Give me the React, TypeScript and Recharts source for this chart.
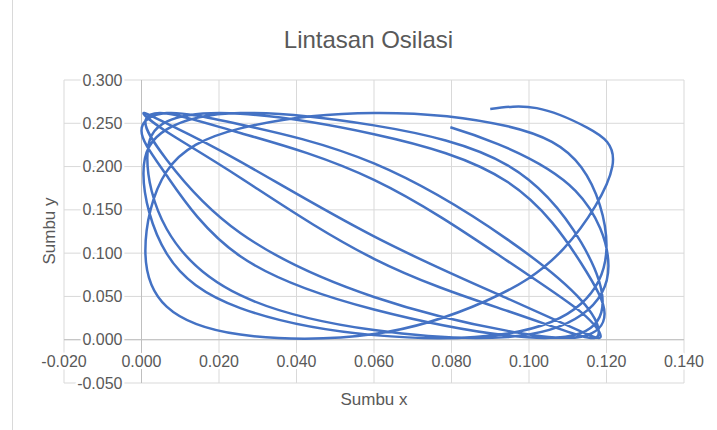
import React from "react";
import { LineChart, Line, XAxis, YAxis, CartesianGrid, ReferenceLine, ReferenceDot } from "recharts";

// Traced path of the oscillation (x, y in metres), in recording order
const pathX = [
  0.09, 0.102, 0.115, 0.1215, 0.109, 0.089, 0.06, 0.0255, 0.0065, 0.001, 0.0065, 0.0255, 0.06,
  0.0945, 0.1135, 0.12, 0.1135, 0.0945, 0.06, 0.0255, 0.0065, 0.0005, 0.0065, 0.0255, 0.06,
  0.0945, 0.1135, 0.119, 0.1135, 0.0945, 0.06, 0.0255, 0.0065, 0.0, 0.0065, 0.0255, 0.06,
  0.0945, 0.1135, 0.118, 0.1135, 0.0945, 0.06, 0.0255, 0.0065, 0.0005, 0.0065, 0.0255, 0.06,
  0.0945, 0.1135, 0.1185, 0.1135, 0.0945, 0.06, 0.0255, 0.0065, 0.001, 0.0065, 0.0255, 0.06,
  0.0945, 0.1135, 0.1195, 0.1135, 0.0945, 0.06, 0.0255, 0.0065, 0.0015, 0.0065, 0.0255, 0.06,
  0.0945, 0.1135, 0.1205, 0.112, 0.092, 0.0797,
];
const pathY = [
  0.2665, 0.2675, 0.245, 0.2, 0.1055, 0.045, 0.0065, 0.0059, 0.0382, 0.1024, 0.1945, 0.2441, 0.262,
  0.2465, 0.1991, 0.1087, 0.0418, 0.0072, 0.0053, 0.0365, 0.0994, 0.1921, 0.2429, 0.2619, 0.2476,
  0.2014, 0.1121, 0.0436, 0.0079, 0.0048, 0.0349, 0.0964, 0.1896, 0.2415, 0.2618, 0.2487, 0.2036,
  0.1156, 0.0455, 0.0086, 0.0043, 0.0332, 0.0935, 0.1871, 0.2402, 0.2616, 0.2498, 0.2057, 0.1193,
  0.0475, 0.0094, 0.0039, 0.0316, 0.0908, 0.1846, 0.2388, 0.2613, 0.2508, 0.2079, 0.1233, 0.0494,
  0.0102, 0.0035, 0.03, 0.088, 0.1821, 0.2374, 0.261, 0.2518, 0.21, 0.1279, 0.0514, 0.0111,
  0.0032, 0.0285, 0.0853, 0.172, 0.226, 0.2455,
];

const xTicks = [-0.02, 0, 0.02, 0.04, 0.06, 0.08, 0.1, 0.12, 0.14];
const yTicks = [-0.05, 0, 0.05, 0.1, 0.15, 0.2, 0.25, 0.3];

const data = pathX.map((x, i) => ({ x, y: pathY[i] }));

const FONT = "'Liberation Sans', Arial, sans-serif";
const TEXT = "#595959";

const fmt = (v: number) => v.toFixed(3);

// tick text drawn next to the crossing axes (Excel style)
function TickText({ viewBox, value, side }: { viewBox?: any; value: number; side: "left" | "bottom" }) {
  if (!viewBox) return null;
  const cx = viewBox.x + viewBox.width / 2;
  const cy = viewBox.y + viewBox.height / 2;
  const x = side === "left" ? cx - 19 : cx;
  const y = side === "left" ? cy : cy + 22;
  return (
    <text
      x={x}
      y={y}
      dy="0.35em"
      textAnchor={side === "left" ? "end" : "middle"}
      fill={TEXT}
      fontSize={16}
      fontFamily={FONT}
      stroke="#fff"
      strokeWidth={5}
      strokeLinejoin="round"
      paintOrder="stroke"
    >
      {fmt(value)}
    </text>
  );
}

export default function App() {
  return (
    <div style={{ position: "absolute", left: 0, top: 0, width: 717, height: 430, background: "#fff", fontFamily: FONT }}>
      <div style={{ position: "absolute", left: 12, top: 0, width: 1, height: 430, background: "#d9d9d9" }} />
      <div style={{ position: "absolute", left: 0, width: 737, top: 26, textAlign: "center", fontSize: 24, color: TEXT }}>
        Lintasan Osilasi
      </div>
      <div
        style={{
          position: "absolute",
          left: 50,
          top: 231,
          transform: "translate(-50%, -50%) rotate(-90deg)",
          fontSize: 17,
          color: TEXT,
          whiteSpace: "nowrap",
        }}
      >
        Sumbu y
      </div>
      <div style={{ position: "absolute", left: 0, width: 748, top: 390, textAlign: "center", fontSize: 17, color: TEXT }}>
        Sumbu x
      </div>
      <div style={{ position: "absolute", left: 0, top: 0 }}>
        <LineChart width={717} height={430} data={data} margin={{ top: 80, right: 33, bottom: 47, left: 64 }}>
          <CartesianGrid stroke="#d9d9d9" />
          <XAxis type="number" dataKey="x" domain={[-0.02, 0.14]} ticks={xTicks} hide />
          <YAxis type="number" domain={[-0.05, 0.3]} ticks={yTicks} hide />
          <ReferenceLine x={0} stroke="#bfbfbf" />
          <ReferenceLine y={0} stroke="#bfbfbf" />
          <Line
            dataKey="y"
            type="natural"
            stroke="#4472C4"
            strokeWidth={2.5}
            dot={false}
            activeDot={false}
            isAnimationActive={false}
          />
          {yTicks.map((v) => (
            <ReferenceDot
              key={`y-${v}`}
              x={0}
              y={v}
              r={0}
              ifOverflow="visible"
              label={(p: any) => <TickText viewBox={p.viewBox} value={v} side="left" />}
            />
          ))}
          {xTicks.map((v) => (
            <ReferenceDot
              key={`x-${v}`}
              x={v}
              y={0}
              r={0}
              ifOverflow="visible"
              label={(p: any) => <TickText viewBox={p.viewBox} value={v} side="bottom" />}
            />
          ))}
        </LineChart>
      </div>
    </div>
  );
}
